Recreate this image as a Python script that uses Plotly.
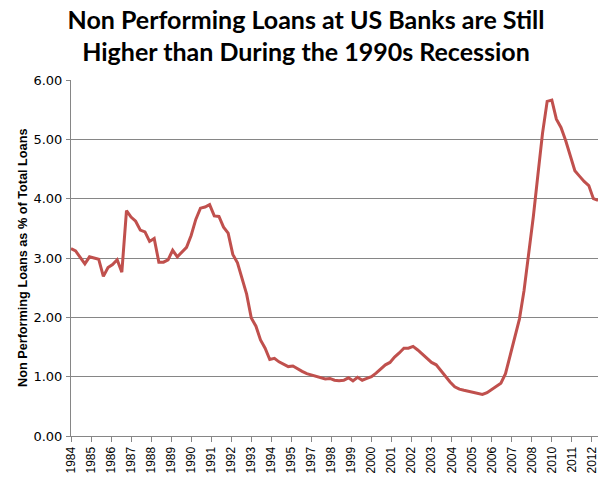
import pandas as pd
import plotly.graph_objects as go

# Non performing loans, % of total loans, quarterly from 1984 Q1
START_DATE = "1984-01-01"
NPL_RATE = [
    3.16, 3.12, 3.01, 2.90, 3.02, 3.00, 2.98, 2.69, 2.84, 2.89,
    2.97, 2.76, 3.80, 3.69, 3.62, 3.47, 3.44, 3.28, 3.33, 2.93,
    2.93, 2.97, 3.13, 3.02, 3.10, 3.18, 3.38, 3.65, 3.84, 3.86,
    3.90, 3.71, 3.70, 3.52, 3.42, 3.06, 2.92, 2.67, 2.39, 1.99,
    1.85, 1.62, 1.48, 1.29, 1.31, 1.25, 1.21, 1.17, 1.18, 1.13,
    1.09, 1.05, 1.03, 1.00, 0.98, 0.96, 0.97, 0.94, 0.93, 0.94,
    0.98, 0.93, 0.99, 0.94, 0.97, 1.00, 1.06, 1.13, 1.20, 1.24,
    1.33, 1.40, 1.48, 1.48, 1.51, 1.45, 1.38, 1.30, 1.24, 1.20,
    1.10, 1.00, 0.91, 0.83, 0.79, 0.77, 0.75, 0.74, 0.72, 0.70,
    0.73, 0.78, 0.83, 0.89, 1.05, 1.35, 1.64, 1.97, 2.45, 3.05,
    3.70, 4.40, 5.10, 5.64, 5.66, 5.34, 5.20, 4.98, 4.70, 4.47,
    4.38, 4.29, 4.22, 4.00, 3.97,
]
dates = pd.date_range(START_DATE, periods=len(NPL_RATE), freq="QS")

TITLE = "Non Performing Loans at US Banks are Still<br>Higher than During the 1990s Recession"
Y_TITLE = "Non Performing Loans as % of Total Loans"

fig = go.Figure(go.Scatter(
    x=dates, y=NPL_RATE, mode="lines",
    line=dict(color="#C0504D", width=3),
    hoverinfo="x+y",
))

fig.update_layout(
    width=612, height=480,
    margin=dict(l=71, r=14, t=80, b=44),
    paper_bgcolor="white", plot_bgcolor="white",
    showlegend=False,
    title=dict(text=TITLE, x=0.5, xanchor="center",
               yref="container", y=0.94, yanchor="middle",
               font=dict(family="Lato", size=25, color="black", weight="bold")),
)

# y axis title as an annotation so it sits where the original one does
fig.add_annotation(
    text=Y_TITLE, textangle=-90, showarrow=False,
    xref="paper", yref="paper", x=0, y=0.5, xanchor="center", yanchor="middle",
    xshift=-48,
    font=dict(family="Liberation Sans", size=12.7, color="black", weight="bold"),
)

fig.update_xaxes(
    type="date", range=[dates[0], dates[-1]], automargin=False,
    tick0=START_DATE, dtick="M13", tickformat="%Y", tickangle=-90,
    ticks="outside", ticklen=5, tickcolor="#868686",
    showline=True, linecolor="#868686", linewidth=1,
    showgrid=False, zeroline=False,
    tickfont=dict(family="Liberation Sans", size=12, color="black"),
)

fig.update_yaxes(
    range=[0, 6], dtick=1, tickformat=".2f", automargin=False,
    ticks="outside", ticklen=4, tickcolor="#868686", ticklabelstandoff=1,
    showline=True, linecolor="#868686", linewidth=1,
    showgrid=True, gridcolor="#868686", gridwidth=1, zeroline=False,
    tickfont=dict(family="DejaVu Sans", size=13, color="black"),
)

# drop the browser's default body margin so the figure sits at the page corner
fig.write_html("out.html", config={"displayModeBar": False},
               post_script="document.body.style.margin='0';")
